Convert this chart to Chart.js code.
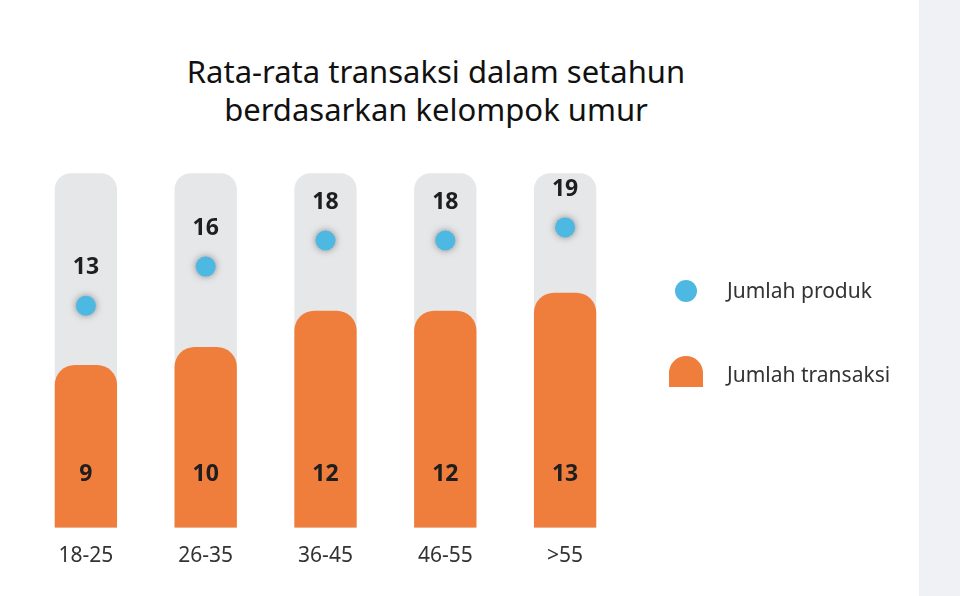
<!DOCTYPE html>
<html>
<head>
<meta charset="utf-8">
<script src="https://cdn.jsdelivr.net/npm/chart.js@4"></script>
<style>
  html, body { margin: 0; padding: 0; }
  body { width: 960px; height: 596px; background: #f0f1f4; position: relative; overflow: hidden; font-family: 'Noto Sans', sans-serif; }
  #panel { position: absolute; left: 0; top: 0; width: 919px; height: 596px; background: #fff; }
  #judul { position: absolute; left: 0; width: 872px; top: 52px; text-align: center; font-size: 31px; line-height: 38px; color: #111; }
  #wrap { position: absolute; left: 0; top: 0; width: 919px; height: 596px; }
  .leg { position: absolute; left: 727px; font-size: 21px; color: #333; }
  .dot { position: absolute; left: 675px; top: 280px; width: 22px; height: 22px; border-radius: 50%; background: #4db8e2; }
  .kotak { position: absolute; left: 669px; top: 356px; width: 34px; height: 31px; border-radius: 17px 17px 0 0; background: #ef7d3b; }
</style>
</head>
<body>
<div id="panel"></div>
<div id="judul">Rata-rata transaksi dalam setahun<br>berdasarkan kelompok umur</div>
<div id="wrap"><canvas id="grafik"></canvas></div>
<div class="dot"></div>
<div class="leg" style="top:276px">Jumlah produk</div>
<div class="kotak"></div>
<div class="leg" style="top:360px">Jumlah transaksi</div>
<script>
// === Data ===
const kelompokUmur = ['18-25', '26-35', '36-45', '46-55', '>55'];
const jumlahTransaksi = [9, 10, 12, 12, 13];
const jumlahProduk = [13, 16, 18, 18, 19];
const latar = [19.6, 19.6, 19.6, 19.6, 19.6];

// label angka di batang & titik
const labelAngka = {
  id: 'labelAngka',
  afterDatasetsDraw(chart) {
    const ctx = chart.ctx;
    ctx.save();
    ctx.font = 'bold 23px "Noto Sans"';
    ctx.fillStyle = '#1e1e1e';
    ctx.textAlign = 'center';
    ctx.textBaseline = 'middle';
    const yBawah = chart.scales.y.getPixelForValue(0);
    chart.getDatasetMeta(1).data.forEach((bar, i) => {
      ctx.fillText(jumlahTransaksi[i], bar.x, yBawah - 53);
    });
    chart.getDatasetMeta(2).data.forEach((pt, i) => {
      ctx.fillText(jumlahProduk[i], pt.x, pt.y - 38);
    });
    ctx.restore();
  }
};

// bayangan halus di sekitar titik biru
const glow = {
  id: 'glow',
  beforeDatasetDraw(chart, args) {
    if (args.index !== 2) return;
    chart.ctx.save();
    chart.ctx.shadowColor = 'rgba(60,60,60,0.55)';
    chart.ctx.shadowBlur = 7;
  },
  afterDatasetDraw(chart, args) {
    if (args.index !== 2) return;
    chart.ctx.restore();
  }
};

new Chart(document.getElementById('grafik'), {
  data: {
    labels: kelompokUmur,
    datasets: [{
      type: 'bar',
      data: latar,
      backgroundColor: '#e6e7e9',
      borderRadius: { topLeft: 16, topRight: 16 },
      borderSkipped: 'bottom',
      grouped: false,
      order: 3,
      yAxisID: 'y'
    }, {
      type: 'bar',
      label: 'Jumlah transaksi',
      data: jumlahTransaksi,
      backgroundColor: '#ef7d3b',
      borderRadius: { topLeft: 20, topRight: 20 },
      borderSkipped: 'bottom',
      grouped: false,
      order: 2,
      yAxisID: 'y'
    }, {
      type: 'line',
      label: 'Jumlah produk',
      data: jumlahProduk,
      showLine: false,
      pointRadius: 10,
      pointHoverRadius: 10,
      pointBackgroundColor: '#4db8e2',
      pointBorderWidth: 0,
      order: 1,
      yAxisID: 'y2'
    }]
  },
  options: {
    responsive: true,
    maintainAspectRatio: false,
    animation: false,
    layout: { padding: { left: 26, right: 294, top: 166, bottom: 19 } },
    datasets: { bar: { barPercentage: 1, categoryPercentage: 0.52 } },
    plugins: {
      legend: { display: false },
      tooltip: { enabled: false }
    },
    scales: {
      x: {
        grid: { display: false },
        border: { display: false },
        ticks: { padding: 8, color: '#333', font: { family: 'Noto Sans', size: 21 } }
      },
      y: { display: false, min: 0, max: 20 },
      y2: { display: false, min: -4, max: 23.7 }
    }
  },
  plugins: [labelAngka, glow]
});
</script>
</body>
</html>
